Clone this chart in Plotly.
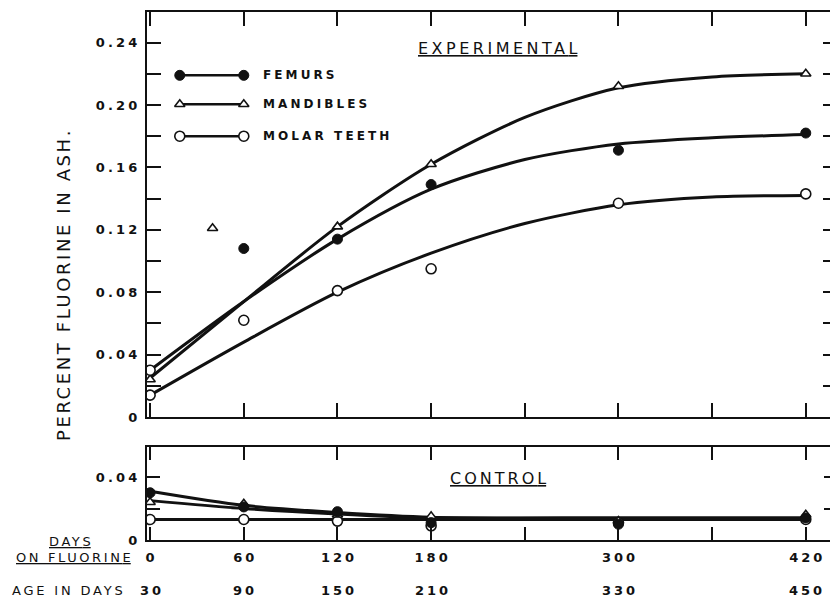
import plotly.graph_objects as go

# ---------------- data ----------------
DAYS_ON_FLUORINE = [0, 60, 120, 180, 300, 420]
AGE_IN_DAYS = [30, 90, 150, 210, 330, 450]
X_TICKS = [0, 60, 120, 180, 240, 300, 360, 420]

# Experimental – observed points
exp_femur_x = [60, 120, 180, 300, 420]
exp_femur_y = [0.108, 0.114, 0.149, 0.171, 0.182]
exp_mand_x = [0, 40, 120, 180, 300, 420]
exp_mand_y = [0.024, 0.121, 0.122, 0.162, 0.212, 0.220]
exp_molar_x = [0, 0, 60, 120, 180, 300, 420]
exp_molar_y = [0.030, 0.014, 0.062, 0.081, 0.095, 0.137, 0.143]

# Experimental – hand-fitted curves (read at these days)
exp_curve_x = [0, 60, 120, 180, 240, 300, 360, 420]
exp_femur_curve = [0.030, 0.074, 0.114, 0.146, 0.165, 0.175, 0.179, 0.181]
exp_mand_curve = [0.025, 0.074, 0.122, 0.162, 0.192, 0.211, 0.218, 0.220]
exp_molar_curve = [0.014, 0.048, 0.080, 0.105, 0.124, 0.136, 0.141, 0.142]

# Control – observed points
ctrl_x = [0, 60, 120, 180, 300, 420]
ctrl_femur_y = [0.030, 0.021, 0.018, 0.011, 0.010, 0.014]
ctrl_mand_y = [0.024, 0.023, 0.016, 0.015, 0.012, 0.016]
ctrl_molar_y = [0.013, 0.013, 0.012, 0.009, 0.011, 0.013]

# Control – fitted curves
ctrl_curve_x = [0, 60, 120, 180, 300, 420]
ctrl_femur_curve = [0.031, 0.022, 0.0175, 0.0145, 0.014, 0.014]
ctrl_mand_curve = [0.025, 0.020, 0.0165, 0.014, 0.014, 0.014]
ctrl_molar_curve = [0.013, 0.013, 0.013, 0.013, 0.013, 0.013]

TOP_Y_TICKS = [0, 0.02, 0.04, 0.06, 0.08, 0.10, 0.12, 0.14, 0.16, 0.18, 0.20, 0.22, 0.24]
TOP_Y_LABELS = ["0", "", "0.04", "", "0.08", "", "0.12", "", "0.16", "", "0.20", "", "0.24"]
BOT_Y_TICKS = [0, 0.02, 0.04]
BOT_Y_LABELS = ["0", "", "0.04"]

SERIES = ["FEMURS", "MANDIBLES", "MOLAR TEETH"]

# ---------------- styling ----------------
FONT = "DejaVu Sans"
INK = "#111111"


def spaced(text, px):
    """Letter-spaced text without trailing space after the last glyph."""
    if len(text) < 2:
        return text
    return f"<span style='letter-spacing:{px}px'>{text[:-1]}</span>{text[-1]}"


MARKERS = {
    "FEMURS": dict(symbol="circle", size=10, color=INK, line=dict(color=INK, width=1)),
    "MANDIBLES": dict(symbol="triangle-up", size=9, color="white", line=dict(color=INK, width=1.6)),
    "MOLAR TEETH": dict(symbol="circle", size=10, color="white", line=dict(color=INK, width=1.6)),
}
CURVE_LINE = dict(color=INK, width=3, shape="spline", smoothing=0.8)
TICK_FONT = dict(family=FONT, size=13, color=INK, weight="bold")
SIDE_FONT = dict(family=FONT, size=13, color=INK)

fig = go.Figure()

# curves
for cy in (exp_femur_curve, exp_mand_curve, exp_molar_curve):
    fig.add_trace(go.Scatter(x=exp_curve_x, y=cy, mode="lines", line=CURVE_LINE,
                             xaxis="x", yaxis="y", hoverinfo="skip"))
for cy in (ctrl_femur_curve, ctrl_mand_curve, ctrl_molar_curve):
    fig.add_trace(go.Scatter(x=ctrl_curve_x, y=cy, mode="lines", line=CURVE_LINE,
                             xaxis="x2", yaxis="y2", hoverinfo="skip"))

# points
for name, xs, ys in (("FEMURS", exp_femur_x, exp_femur_y),
                     ("MANDIBLES", exp_mand_x, exp_mand_y),
                     ("MOLAR TEETH", exp_molar_x, exp_molar_y)):
    fig.add_trace(go.Scatter(x=xs, y=ys, mode="markers", marker=MARKERS[name],
                             xaxis="x", yaxis="y", name=name))
for name, ys in (("MOLAR TEETH", ctrl_molar_y), ("MANDIBLES", ctrl_mand_y), ("FEMURS", ctrl_femur_y)):
    fig.add_trace(go.Scatter(x=ctrl_x, y=ys, mode="markers", marker=MARKERS[name],
                             xaxis="x2", yaxis="y2", name=name))

# custom legend (line with a marker at each end), placed in the top panel
LEG_X = [19, 60]
LEG_Y = [0.219, 0.2005, 0.180]
for name, ly in zip(SERIES, LEG_Y):
    fig.add_trace(go.Scatter(x=LEG_X, y=[ly, ly], mode="lines+markers",
                             line=dict(color=INK, width=2.5), marker=MARKERS[name],
                             xaxis="x", yaxis="y", hoverinfo="skip"))
    fig.add_annotation(x=71, y=ly, xref="x", yref="y", xanchor="left", yanchor="middle",
                       text=spaced(name, 3.1), showarrow=False,
                       font=dict(family=FONT, size=12, color=INK, weight="bold"))

axis_common = dict(showline=True, linecolor=INK, linewidth=2, mirror="ticks",
                   ticks="inside", tickcolor=INK, tickwidth=2, showgrid=False,
                   zeroline=False, automargin=False)

# the page body adds an 8px offset, so the figure is sized to fill the rest
fig.update_layout(
    width=830, height=592, autosize=False,
    margin=dict(l=139, r=1, t=4, b=60, autoexpand=False),
    paper_bgcolor="white", plot_bgcolor="white",
    showlegend=False,
    font=dict(family=FONT, size=13, color=INK),
    xaxis=dict(domain=[0, 1], range=[-2, 440], anchor="y", tickvals=X_TICKS,
               showticklabels=False, ticklen=14, **axis_common),
    yaxis=dict(domain=[0.233, 1], range=[0, 0.2596], anchor="x", tickvals=TOP_Y_TICKS,
               ticktext=[spaced(t, 3.2) for t in TOP_Y_LABELS], ticklen=14,
               tickfont=TICK_FONT, ticklabelstandoff=5, **axis_common),
    xaxis2=dict(domain=[0, 1], range=[-2, 440], anchor="y2", tickvals=X_TICKS,
                ticktext=[spaced(str(v), 3) if v in DAYS_ON_FLUORINE else "" for v in X_TICKS],
                ticklen=13, tickfont=TICK_FONT, ticklabelstandoff=4, **axis_common),
    yaxis2=dict(domain=[0, 0.176], range=[0, 0.059], anchor="x2", tickvals=BOT_Y_TICKS,
                ticktext=[spaced(t, 3.2) for t in BOT_Y_LABELS], ticklen=13,
                tickfont=TICK_FONT, ticklabelstandoff=5, **axis_common),
)

# second row of x labels: age in days
for d, age in zip(DAYS_ON_FLUORINE, AGE_IN_DAYS):
    fig.add_annotation(x=d, y=0, xref="x2", yref="paper", yshift=-50, yanchor="middle",
                       text=spaced(str(age), 3), showarrow=False, font=TICK_FONT)

fig.add_annotation(x=0, y=0, xref="paper", yref="paper", xanchor="right", yanchor="middle",
                   xshift=-22, yshift=-50, text=spaced("AGE IN DAYS", 2.8), showarrow=False,
                   font=SIDE_FONT)
fig.add_annotation(x=0, y=0, xref="paper", yref="paper", xanchor="right", yanchor="middle",
                   xshift=-14, yshift=-17, text="<u>" + spaced("ON FLUORINE", 2.6) + "</u>",
                   showarrow=False, font=SIDE_FONT)
fig.add_annotation(x=0, y=0, xref="paper", yref="paper", xanchor="center", yanchor="middle",
                   xshift=-77, yshift=-1, text="<u>" + spaced("DAYS", 2.6) + "</u>",
                   showarrow=False, font=SIDE_FONT)

# panel titles
fig.add_annotation(x=0.509, y=0.93, xref="paper", yref="paper", xanchor="center",
                   yanchor="middle", text="<u>" + spaced("EXPERIMENTAL", 3.5) + "</u>",
                   showarrow=False, font=dict(family=FONT, size=16, color=INK))
fig.add_annotation(x=0.509, y=0.117, xref="paper", yref="paper", xanchor="center",
                   yanchor="middle", text="<u>" + spaced("CONTROL", 3) + "</u>",
                   showarrow=False, font=dict(family=FONT, size=16, color=INK))

# y-axis title
fig.add_annotation(x=0, y=0.481, xref="paper", yref="paper", xanchor="center",
                   yanchor="middle", xshift=-84, textangle=-90,
                   text=spaced("PERCENT FLUORINE IN ASH.", 2.6), showarrow=False,
                   font=dict(family=FONT, size=18, color=INK))

fig.write_html("out.html")
